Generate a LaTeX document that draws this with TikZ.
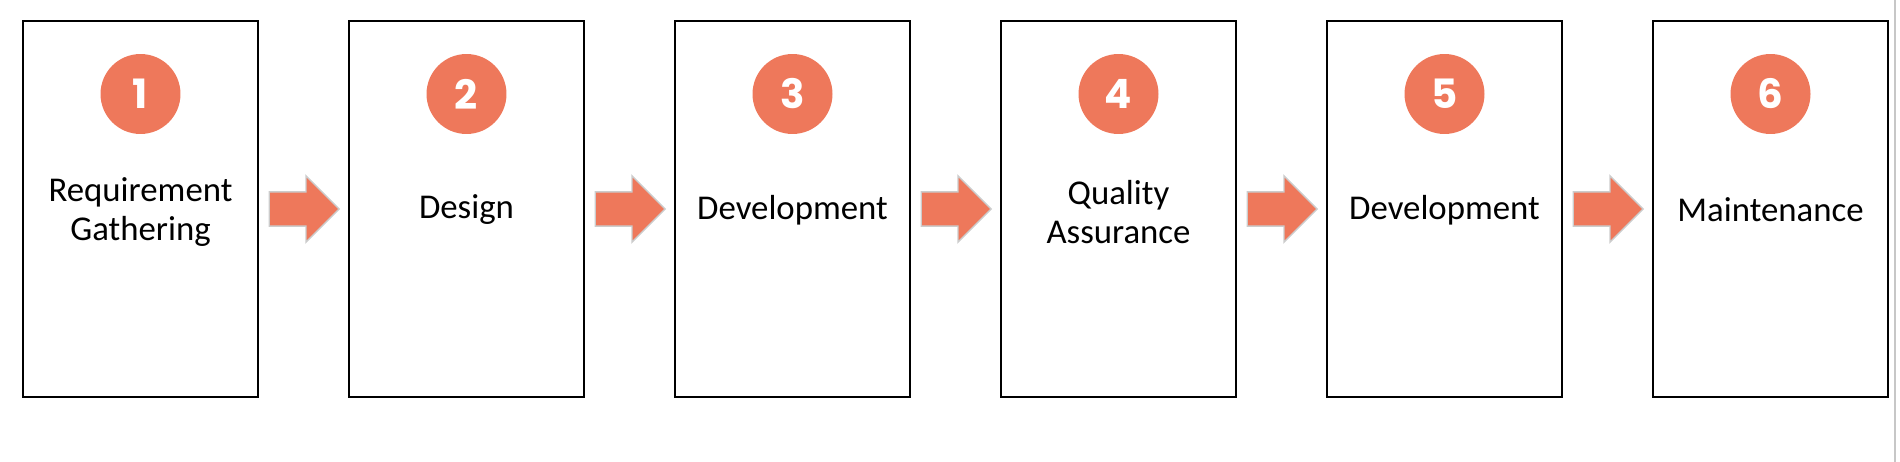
\documentclass[tikz,border=0pt]{standalone}
\usepackage{fontspec}
\setmainfont{Carlito}
\newfontfamily\numfont{Poppins}
\usetikzlibrary{shapes.arrows,calc}

\definecolor{stepred}{HTML}{EE785B}

\tikzset{
    stage/.style={draw=black, line width=1.3pt, minimum width=4.7cm, minimum height=7.52cm, inner sep=0pt},
    num/.style={circle, fill=stepred, minimum size=1.6cm, inner sep=0pt, text=white, font=\numfont\bfseries\fontsize{23}{23}\selectfont},
    stagetext/.style={align=center, inner sep=0pt, font=\fontsize{19.8}{22.5}\selectfont},
    blockarrow/.style={single arrow, fill=stepred, draw=black!20, line width=0.8pt, inner xsep=0pt, inner ysep=0.33cm,
        minimum height=1.4cm, minimum width=1.3cm, single arrow head extend=0.32cm, anchor=tail, xshift=-0.7cm}
}

\begin{document}
\begin{tikzpicture}[x=0.02cm, y=-0.02cm]
        \useasboundingbox (0, 0) rectangle (1900, 462);

        % place nodes
        \node[stage] at (140.5, 209)    (s1) {};
        \node[stage] at (466.5, 209)    (s2) {};
        \node[stage] at (792.5, 209)    (s3) {};
        \node[stage] at (1118.5, 209)   (s4) {};
        \node[stage] at (1444.5, 209)   (s5) {};
        \node[stage] at (1770.5, 209)   (s6) {};

        \node[num] at (140.5, 94)   (n1) {1};
        \node[num] at (466.5, 94)   (n2) {2};
        \node[num] at (792.5, 94)   (n3) {3};
        \node[num] at (1118.5, 94)  (n4) {4};
        \node[num] at (1444.5, 94)  (n5) {5};
        \node[num] at (1770.5, 94)  (n6) {6};

        \node[stagetext] at (140.5, 212)    (t1) {Requirement\\Gathering};
        \node[stagetext] at (466.5, 210)    (t2) {Design};
        \node[stagetext] at (792.5, 210)    (t3) {Development};
        \node[stagetext] at (1118.5, 212)   (t4) {Quality\\Assurance};
        \node[stagetext] at (1444.5, 210)   (t5) {Development};
        \node[stagetext] at (1770.5, 210)   (t6) {Maintenance};

        % draw arrows
        \node[blockarrow] at ($(s1.east)!0.5!(s2.west)$) (a1) {};
        \node[blockarrow] at ($(s2.east)!0.5!(s3.west)$) (a2) {};
        \node[blockarrow] at ($(s3.east)!0.5!(s4.west)$) (a3) {};
        \node[blockarrow] at ($(s4.east)!0.5!(s5.west)$) (a4) {};
        \node[blockarrow] at ($(s5.east)!0.5!(s6.west)$) (a5) {};

        % page edge
        \draw[black!22, line width=1.5pt] (1895, 0) -- (1895, 462);
    \end{tikzpicture}
\end{document}
